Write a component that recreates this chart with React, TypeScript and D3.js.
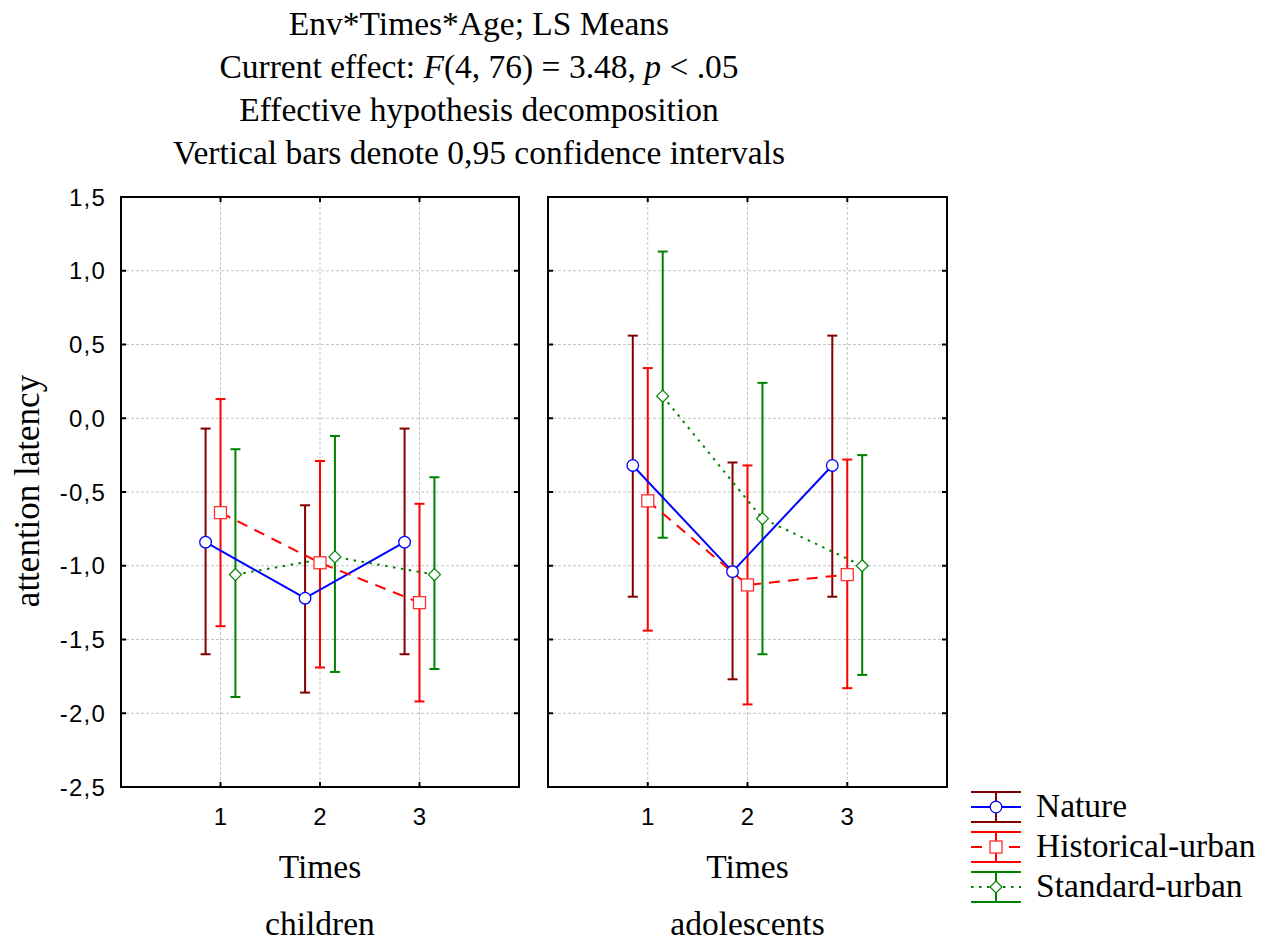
import React from 'react'
import * as d3 from 'd3'

// chart values
const times = [1, 2, 3]
const yTicks = [1.5, 1.0, 0.5, 0.0, -0.5, -1.0, -1.5, -2.0, -2.5]
const ageGroups = ['children', 'adolescents']
const seriesNames = ['Nature', 'Historical-urban', 'Standard-urban']

const natureMean = [[-0.84, -1.22, -0.84], [-0.32, -1.04, -0.32]]
const natureLow = [[-1.60, -1.86, -1.60], [-1.21, -1.77, -1.21]]
const natureHigh = [[-0.07, -0.59, -0.07], [0.56, -0.30, 0.56]]

const historicalMean = [[-0.64, -0.98, -1.25], [-0.56, -1.13, -1.06]]
const historicalLow = [[-1.41, -1.69, -1.92], [-1.44, -1.94, -1.83]]
const historicalHigh = [[0.13, -0.29, -0.58], [0.34, -0.32, -0.28]]

const standardMean = [[-1.06, -0.94, -1.06], [0.15, -0.68, -1.00]]
const standardLow = [[-1.89, -1.72, -1.70], [-0.81, -1.60, -1.74]]
const standardHigh = [[-0.21, -0.12, -0.40], [1.13, 0.24, -0.25]]

const titleLines = [
  'Env*Times*Age; LS Means',
  null, // current effect line, has italics
  'Effective hypothesis decomposition',
  'Vertical bars denote 0,95 confidence intervals',
]

const styles = [
  {err: '#800000', line: '#0000ff', dash: null, marker: 'circle', mstroke: '#0000ff', offset: -0.15},
  {err: '#ff0000', line: '#ff0000', dash: '11,8', marker: 'square', mstroke: '#ff3030', offset: 0},
  {err: '#008000', line: '#008000', dash: '2.5,5.5', marker: 'diamond', mstroke: '#008000', offset: 0.15},
]

const serif = '"Liberation Serif", "Times New Roman", serif'
const sans = '"Liberation Sans", Arial, sans-serif'
const FS = 33.5

const Marker = ({kind, x, y, stroke}: {kind: string, x: number, y: number, stroke: string}) => {
  if (kind === 'circle') return <circle cx={x} cy={y} r={5.8} fill="white" stroke={stroke} strokeWidth={1.3} />
  if (kind === 'square') return <rect x={x - 6} y={y - 6} width={12} height={12} fill="white" stroke={stroke} strokeWidth={1.3} />
  return <path d={`M${x},${y - 6}L${x + 6},${y}L${x},${y + 6}L${x - 6},${y}Z`} fill="white" stroke={stroke} strokeWidth={1.2} />
}

export default function App() {
  const width = 1270
  const height = 941
  const top = 197
  const bottom = 787
  const panels = [[121, 519], [548, 947]]

  const y = d3.scaleLinear().domain([-2.5, 1.5]).range([bottom, top])
  const allSeries = [
    [natureMean, natureLow, natureHigh],
    [historicalMean, historicalLow, historicalHigh],
    [standardMean, standardLow, standardHigh],
  ]

  return <svg width={width} height={height} style={{position: 'absolute', left: 0, top: 0, background: 'white'}}>
    <g fontFamily={serif} fontSize={FS} textAnchor="middle" fill="black">
      {titleLines.map((t, i) => i === 1
        ? <text key={i} x={479} y={35 + i * 43}>Current effect: <tspan fontStyle="italic">F</tspan>(4, 76) = 3.48, <tspan fontStyle="italic">p</tspan> &lt; .05</text>
        : <text key={i} x={479} y={35 + i * 43}>{t}</text>)}
    </g>

    <text transform={`translate(39,${(top + bottom) / 2 - 1}) rotate(-90)`} textAnchor="middle"
      fontFamily={serif} fontSize={35}>attention latency</text>

    {yTicks.map(t => <text key={t} x={106} y={y(t) + 8.5} textAnchor="end" fontFamily={sans} fontSize={24}
      letterSpacing={1.2}>{d3.format('.1f')(t).replace('.', ',').replace('−', '-')}</text>)}

    {panels.map(([x0, x1], p) => {
      const x = d3.scaleLinear().domain([0, 4]).range([x0, x1])
      const line = d3.line<number>()
      return <g key={p}>
        {/* grid */}
        {yTicks.slice(1, -1).map(t => <line key={'gy' + t} x1={x0} x2={x1} y1={y(t)} y2={y(t)}
          stroke="#c4c4c4" strokeWidth={1} strokeDasharray="3,2" />)}
        {times.map(t => <line key={'gx' + t} x1={x(t)} x2={x(t)} y1={top} y2={bottom}
          stroke="#c4c4c4" strokeWidth={1} strokeDasharray="3,2" />)}

        {/* error bars */}
        {allSeries.map(([, lo, hi], s) => times.map((t, i) => {
          const cx = x(t + styles[s].offset)
          return <g key={`e${s}${i}`} stroke={styles[s].err} strokeWidth={2}>
            <line x1={cx} x2={cx} y1={y(lo[p][i])} y2={y(hi[p][i])} />
            <line x1={cx - 5} x2={cx + 5} y1={y(lo[p][i])} y2={y(lo[p][i])} />
            <line x1={cx - 5} x2={cx + 5} y1={y(hi[p][i])} y2={y(hi[p][i])} />
          </g>
        }))}

        {/* lines */}
        {allSeries.map(([mean], s) => <path key={'l' + s} fill="none" stroke={styles[s].line} strokeWidth={2}
          strokeDasharray={styles[s].dash || undefined}
          d={line(times.map((t, i) => [x(t + styles[s].offset), y(mean[p][i])])) || ''} />)}

        {/* markers */}
        {allSeries.map(([mean], s) => times.map((t, i) =>
          <Marker key={`m${s}${i}`} kind={styles[s].marker} x={x(t + styles[s].offset)} y={y(mean[p][i])}
            stroke={styles[s].mstroke} />))}

        {/* frame and ticks */}
        <rect x={x0} y={top} width={x1 - x0} height={bottom - top} fill="none" stroke="black" strokeWidth={2} />
        {times.map(t => <g key={'tx' + t} stroke="black" strokeWidth={2}>
          <line x1={x(t)} x2={x(t)} y1={top} y2={top + 5} />
          <line x1={x(t)} x2={x(t)} y1={bottom} y2={bottom - 5} />
        </g>)}
        {yTicks.map(t => <g key={'ty' + t} stroke="black" strokeWidth={2}>
          <line x1={x0} x2={x0 + 5} y1={y(t)} y2={y(t)} />
          <line x1={x1} x2={x1 - 5} y1={y(t)} y2={y(t)} />
        </g>)}

        {times.map(t => <text key={'lx' + t} x={x(t)} y={825} textAnchor="middle" fontFamily={sans}
          fontSize={24}>{t}</text>)}
        <text x={x(2)} y={878} textAnchor="middle" fontFamily={serif} fontSize={FS}>Times</text>
        <text x={x(2)} y={935} textAnchor="middle" fontFamily={serif} fontSize={FS}>{ageGroups[p]}</text>
      </g>
    })}

    {/* legend */}
    {seriesNames.map((name, s) => {
      const cy = 807 + s * 40
      const st = styles[s]
      return <g key={name}>
        <g stroke={st.err} strokeWidth={2}>
          <line x1={971} x2={1021} y1={cy - 15} y2={cy - 15} />
          <line x1={971} x2={1021} y1={cy + 15} y2={cy + 15} />
          <line x1={996} x2={996} y1={cy - 15} y2={cy + 15} />
        </g>
        <line x1={971} x2={1021} y1={cy} y2={cy} stroke={st.line} strokeWidth={2}
          strokeDasharray={st.dash || undefined} />
        <Marker kind={st.marker} x={996} y={cy} stroke={st.mstroke} />
        <text x={1036} y={cy + 10} fontFamily={serif} fontSize={FS}>{name}</text>
      </g>
    })}
  </svg>
}
